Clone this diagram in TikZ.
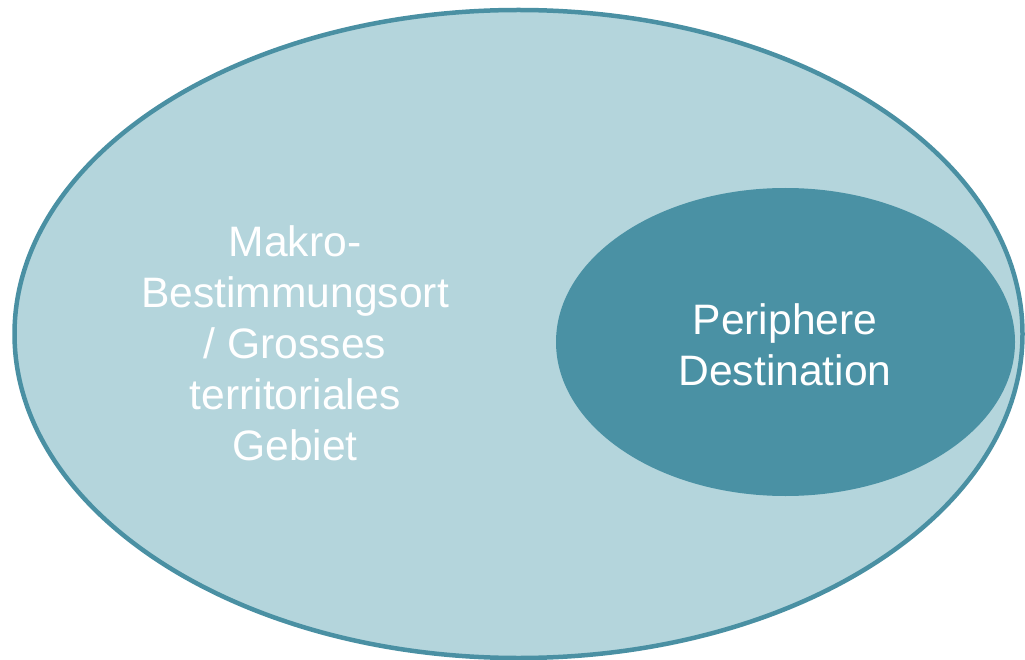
\documentclass[tikz,border=0pt]{standalone}
\usepackage{fontspec}
\setmainfont{Liberation Sans}
\definecolor{outerfill}{RGB}{180,213,220}
\definecolor{tealline}{RGB}{74,144,163}
\definecolor{innerfill}{RGB}{74,145,164}
\tikzset{
  label text/.style={text=white, font=\fontsize{42.6}{51}\selectfont, align=center, inner sep=0pt}
}
\begin{document}
\begin{tikzpicture}[x=1pt,y=-1pt]
  \useasboundingbox (0,0) rectangle (1025,660);
  % large region
  \draw[tealline, line width=4.5pt, fill=outerfill] (518.5,334) ellipse [x radius=504, y radius=324];
  % inner region
  \fill[innerfill] (785.5,342) ellipse [x radius=229.5, y radius=154];
  \node[label text] (macro) at (295,343) {Makro-\\Bestimmungsort\\/ Grosses\\territoriales\\Gebiet};
  \node[label text] (periph) at (785,345) {Periphere\\Destination};
\end{tikzpicture}
\end{document}
